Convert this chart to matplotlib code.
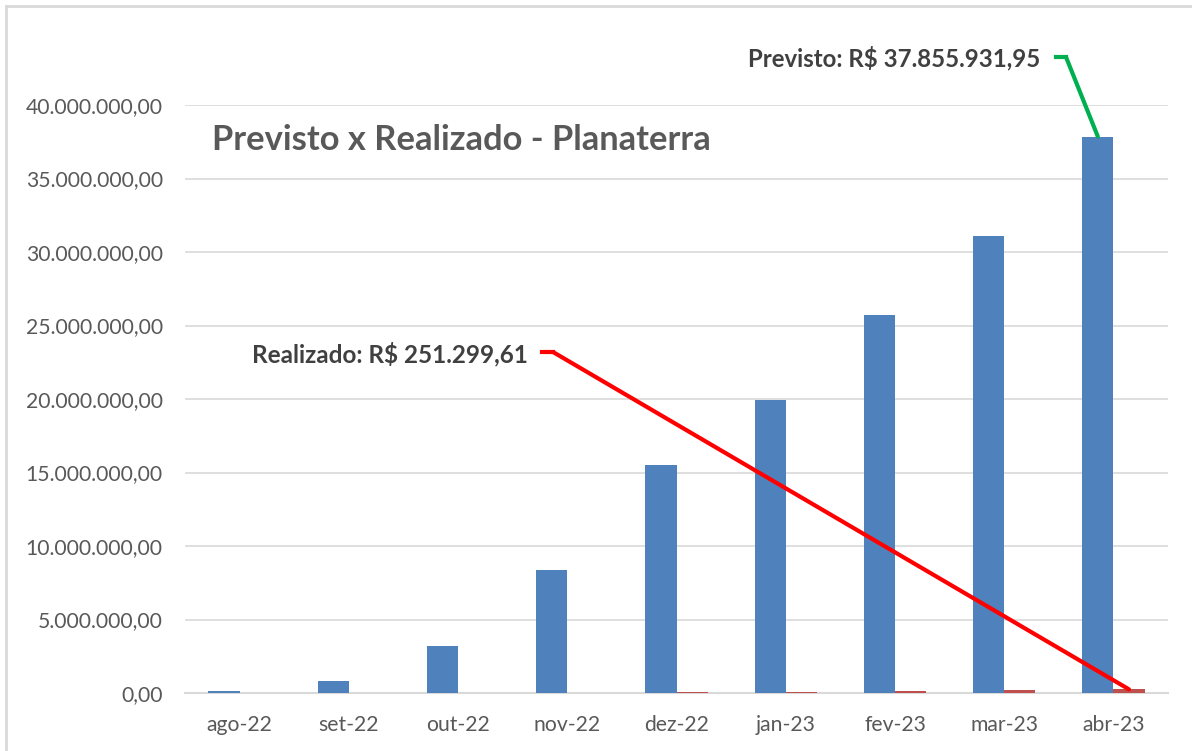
import matplotlib.pyplot as plt
from matplotlib.lines import Line2D
from matplotlib.ticker import FuncFormatter
import numpy as np

# DATA
months = ['ago-22', 'set-22', 'out-22', 'nov-22', 'dez-22', 'jan-23', 'fev-23', 'mar-23', 'abr-23']
previsto = [120000, 850000, 3200000, 8370000, 15500000, 19930000, 25700000, 31100000, 37855931.95]
realizado = [0, 0, 0, 20000, 50000, 100000, 150000, 200000, 251299.61]
yticks = [0, 5e6, 10e6, 15e6, 20e6, 25e6, 30e6, 35e6, 40e6]

plt.rcParams['font.family'] = ['Lato', 'DejaVu Sans']

W, H = 1192, 751
fig = plt.figure(figsize=(W / 100, H / 100), dpi=100)
ax = fig.add_axes([185 / W, 1 - 693 / H, (1168 - 185) / W, (693 - 105) / H])

x = np.arange(len(months))
w = 0.285
ax.bar(x - w / 2, previsto, w, color='#4F81BD', zorder=3)
ax.bar(x + w / 2, realizado, w, color='#C0504D', zorder=3)

ax.set_xlim(-0.5, len(months) - 0.5)
ax.set_ylim(0, 40e6)
ax.set_yticks(yticks)
ax.yaxis.set_major_formatter(FuncFormatter(
    lambda v, p: '{:,.2f}'.format(v).replace(',', '#').replace('.', ',').replace('#', '.')))
ax.set_xticks(x)
ax.set_xticklabels(months)
ax.tick_params(axis='both', length=0, labelsize=15.2, colors='#595959')
ax.tick_params(axis='y', pad=16)
ax.tick_params(axis='x', pad=16)
ax.grid(axis='y', color='#D9D9D9', linewidth=1.2, zorder=0)
for s in ['left', 'right', 'top']:
    ax.spines[s].set_visible(False)
ax.spines['bottom'].set_color('#D9D9D9')
ax.spines['bottom'].set_linewidth(1.5)

# title inside the plot
ax.text(212 / W, 1 - 140 / H, 'Previsto x Realizado - Planaterra', transform=fig.transFigure,
        fontsize=24.8, fontweight='bold', color='#595959', va='center', ha='left')

# callouts: label, short horizontal stub, then a straight leader to the bar top
last = len(months) - 1
fig.text(1040 / W, 1 - 58 / H, 'Previsto: R$ 37.855.931,95', fontsize=17.3,
         fontweight='bold', color='#404040', ha='right', va='center')
fig.add_artist(Line2D([1056 / W, 1066 / W], [1 - 57 / H, 1 - 57 / H], color='#00B050', lw=3))
ax.annotate('', xy=(last - w / 2, previsto[last]), xytext=(1066 / W, 1 - 57 / H),
            textcoords='figure fraction',
            arrowprops=dict(arrowstyle='-', color='#00B050', lw=3, shrinkA=0, shrinkB=0))

fig.text(528 / W, 1 - 354 / H, 'Realizado: R$ 251.299,61', fontsize=17.5,
         fontweight='bold', color='#404040', ha='right', va='center')
fig.add_artist(Line2D([542 / W, 553 / W], [1 - 352 / H, 1 - 352 / H], color='#FF0000', lw=3))
ax.annotate('', xy=(last + w / 2, realizado[last]), xytext=(553 / W, 1 - 352 / H),
            textcoords='figure fraction',
            arrowprops=dict(arrowstyle='-', color='#FF0000', lw=3, shrinkA=0, shrinkB=0))

# chart frame
fig.add_artist(Line2D([6 / W, 6 / W], [0, 1 - 6 / H], color='#D9D9D9', lw=2))
fig.add_artist(Line2D([6 / W, 1], [1 - 6 / H, 1 - 6 / H], color='#D9D9D9', lw=2))

fig.savefig('out.png', dpi=100)
